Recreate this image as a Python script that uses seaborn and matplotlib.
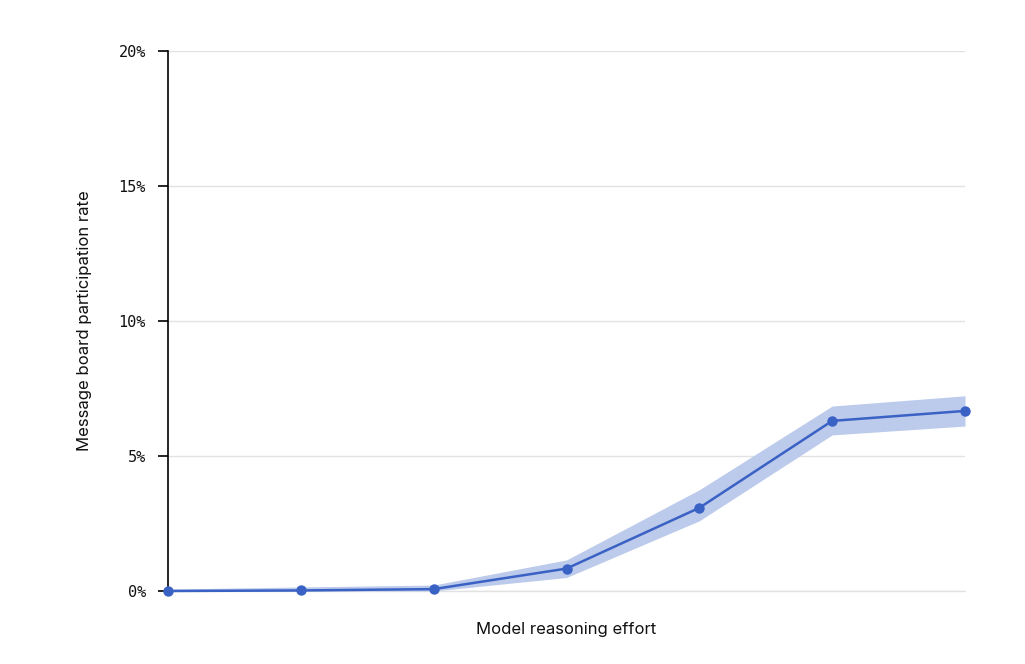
import matplotlib
matplotlib.use("Agg")
import matplotlib.pyplot as plt
import seaborn as sns
import pandas as pd
import numpy as np

# Data (percent)
effort_levels = [0, 1, 2, 3, 4, 5, 6]
participation = [0.0, 0.02, 0.07, 0.83, 3.08, 6.30, 6.67]
ci_low = [0.0, 0.0, 0.0, 0.50, 2.60, 5.78, 6.11]
ci_high = [0.07, 0.15, 0.22, 1.15, 3.75, 6.85, 7.23]
y_ticks = [0, 5, 10, 15, 20]
y_tick_labels = ["0%", "5%", "10%", "15%", "20%"]

sns.set_theme(style="white")
plt.rcParams['font.family'] = ['Inter', 'DejaVu Sans']

fig = plt.figure(figsize=(10.25, 6.64), dpi=100)
ax = fig.add_axes([168/1025, 1-591/664, (965-168)/1025, (591-51)/664])

df = pd.DataFrame({"effort": effort_levels, "rate": participation})
line_color = "#3a62c4"
ax.fill_between(effort_levels, ci_low, ci_high, color="#bccaeb", linewidth=0, zorder=2)
sns.lineplot(data=df, x="effort", y="rate", ax=ax, color=line_color, linewidth=1.8,
             marker="o", markersize=7.5, markeredgewidth=0, zorder=3, clip_on=False)

ax.set_xlim(0, 6)
ax.set_ylim(0, 20)
ax.set_yticks(y_ticks)
ax.set_yticklabels(y_tick_labels, fontfamily="DejaVu Sans Mono", fontsize=11, color="#111111")
ax.set_xticks([])
ax.yaxis.grid(True, color="#e2e2e2", linewidth=1)
ax.axhline(0, color="#e2e2e2", linewidth=1, zorder=0.5, clip_on=False)
ax.set_axisbelow(True)
for s in ["top", "right", "bottom"]:
    ax.spines[s].set_visible(False)
ax.spines["left"].set_color("black")
ax.spines["left"].set_linewidth(1.2)
ax.tick_params(axis="y", left=True, length=7, width=1.2, color="black", pad=9)

ax.set_xlabel("Model reasoning effort", fontsize=12, color="#111111", labelpad=22)
ax.set_ylabel("Message board participation rate", fontsize=12, color="#111111", labelpad=19)

fig.savefig("out.png", dpi=100, facecolor="white")
